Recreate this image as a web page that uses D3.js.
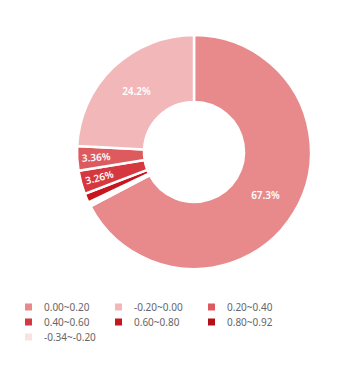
<!DOCTYPE html>
<html>
<head>
<meta charset="utf-8">
<script src="https://cdn.jsdelivr.net/npm/d3@7"></script>
<style>
  body { margin: 0; background: #fff; }
  svg { display: block; }
</style>
</head>
<body>
<svg width="356" height="369"></svg>
<script>
// slices in drawing order (clockwise from 12 o'clock)
const sliceNames = ["0.00~0.20", "-0.34~-0.20", "0.80~0.92", "0.60~0.80", "0.40~0.60", "0.20~0.40", "-0.20~0.00"];
const sliceValues = [67.3, 0.3, 0.3, 1.28, 3.26, 3.36, 24.2];
const sliceLabels = ["67.3%", "", "", "", "3.26%", "3.36%", "24.2%"];

// legend order
const legendNames = ["0.00~0.20", "-0.20~0.00", "0.20~0.40", "0.40~0.60", "0.60~0.80", "0.80~0.92", "-0.34~-0.20"];
const legendColors = ["#e8898b", "#f2b7b9", "#dd5a5f", "#d5383f", "#c8161f", "#b50f18", "#fbe2e2"];

const width = 356, height = 369;
const cx = 194, cy = 152;
const rIn = 50, rOut = 117;

const svg = d3.select("svg");

const color = d3.scaleOrdinal().domain(legendNames).range(legendColors);

const data = sliceNames.map((n, i) => ({ name: n, value: sliceValues[i], label: sliceLabels[i] }));

const pie = d3.pie().sort(null).value(d => d.value);
const arc = d3.arc().innerRadius(rIn).outerRadius(rOut);

const g = svg.append("g").attr("transform", `translate(${cx},${cy})`);

const arcs = pie(data);

g.selectAll("path")
  .data(arcs)
  .join("path")
  .attr("d", arc)
  .attr("fill", d => color(d.data.name))
  .attr("stroke", "#fff")
  .attr("stroke-width", 2.5)
  .attr("stroke-linejoin", "miter");

// labels: big slices at mid ring, small ones pushed out a bit
g.selectAll("text")
  .data(arcs.filter(d => d.data.label))
  .join("text")
  .attr("transform", d => {
    const a = (d.startAngle + d.endAngle) / 2;
    const small = d.data.value < 5;
    const r = small ? 98 : (rIn + rOut) / 2;
    const x = Math.sin(a) * r, y = -Math.cos(a) * r;
    let rot = 0;
    if (small) rot = (a * 180 / Math.PI) - 270;
    return `translate(${x},${y}) rotate(${rot})`;
  })
  .attr("text-anchor", "middle")
  .attr("dy", "0.35em")
  .attr("fill", "#fff")
  .attr("font-family", "'Noto Sans', sans-serif")
  .attr("font-size", 10)
  .attr("font-weight", 600)
  .text(d => d.data.label);

// legend
const leg = svg.append("g");
const colX = [28, 118, 211];
const rowY = [307, 322, 337];

const items = leg.selectAll("g")
  .data(legendNames)
  .join("g")
  .attr("transform", (d, i) => `translate(${colX[i % 3]},${rowY[Math.floor(i / 3)]})`);

items.append("rect")
  .attr("x", -3).attr("y", -3.5)
  .attr("width", 7).attr("height", 7)
  .attr("fill", d => color(d));

items.append("text")
  .attr("x", 16)
  .attr("dy", "0.35em")
  .attr("fill", "#666")
  .attr("font-family", "'Noto Sans', sans-serif")
  .attr("font-size", 10)
  .text(d => d);
</script>
</body>
</html>
